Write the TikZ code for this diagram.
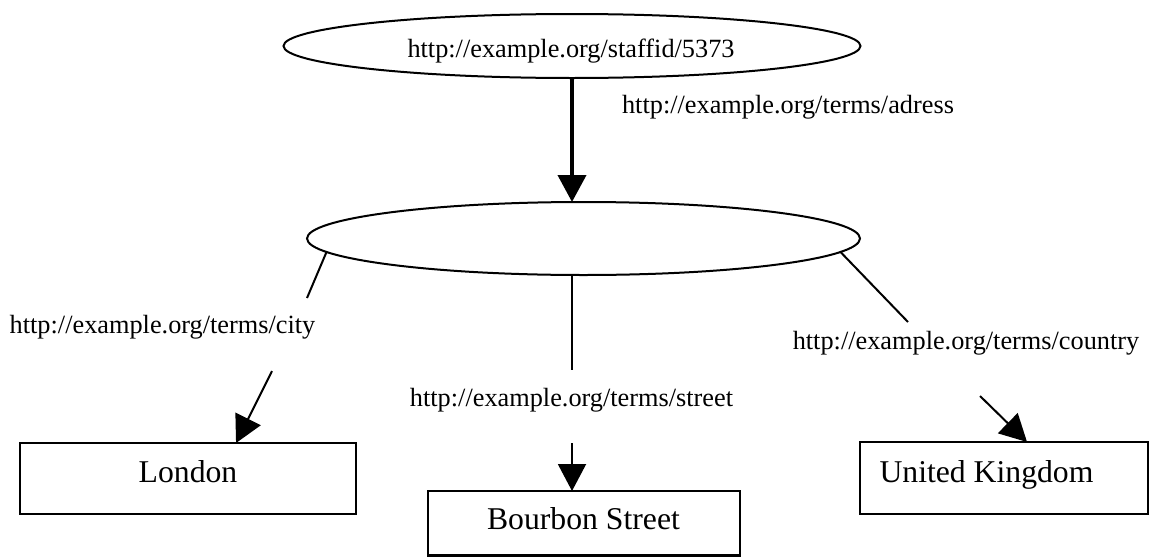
\documentclass[tikz,border=0pt]{standalone}
\usepackage{fontspec}
\setmainfont{Liberation Serif}
\usetikzlibrary{shapes.geometric,arrows.meta,calc}
\begin{document}
\begin{tikzpicture}[x=1pt,y=-1pt,
  resource/.style={draw, ellipse, line width=2pt, inner sep=0pt, outer sep=0pt},
  literal/.style={draw, rectangle, line width=2.4pt, inner sep=0pt, outer sep=0pt},
  lbl/.style={font=\fontsize{26.3}{30}\selectfont, anchor=base, inner sep=0pt},
  boxtxt/.style={font=\fontsize{31.7}{36}\selectfont, anchor=base, inner sep=0pt},
  conn/.style={line width=2pt},
  tip/.style={-{Triangle[length=27pt,width=28pt]}}
]
\useasboundingbox (0,0) rectangle (1151,557);

% subject and blank node
\node[resource, minimum width=577pt, minimum height=64pt] (staff) at (572,46) {};
\node[lbl] (staffText) at (571,57) {http://example.org/staffid/5373};
\node[resource, minimum width=553pt, minimum height=73pt] (addr) at (583.5,238.5) {};

% literal values
\node[literal, minimum width=336pt, minimum height=71pt] (london) at (188,478.5) {};
\node[boxtxt] (londonText) at (188,482) {London};
\node[literal, minimum width=312pt, minimum height=64.5pt] (bourbon) at (584,523.25) {};
\node[boxtxt] (bourbonText) at (583.5,529) {Bourbon Street};
\node[literal, minimum width=288pt, minimum height=72pt] (uk) at (1004,478) {};
\node[boxtxt] (ukText) at (986.5,482) {United Kingdom};

% predicate labels
\node[lbl] (adressLbl) at (788,113) {http://example.org/terms/adress};
\node[lbl] (cityLbl) at (162.5,333) {http://example.org/terms/city};
\node[lbl] (streetLbl) at (571.5,406) {http://example.org/terms/street};
\node[lbl] (countryLbl) at (966,349) {http://example.org/terms/country};

% break points where the edges pass their labels
\coordinate (cityA) at (307,298);
\coordinate (cityB) at (272,371);
\coordinate (streetA) at (572,370);
\coordinate (streetB) at (572,443);
\coordinate (countryA) at (908,322);
\coordinate (countryB) at (980,396);

% edges
\draw[line width=4pt, tip] (staff.south) -- (staff.south |- addr.north);
\draw[conn] (addr.183.2) -- (cityA);
\draw[conn, tip] (cityB) -- ($(london.north west)!0.643!(london.north east)$);
\draw[conn] (streetA |- addr.south) -- (streetA);
\draw[conn, tip] (streetB) -- (streetB |- bourbon.north);
\draw[conn] (addr.-3.05) -- (countryA);
\draw[conn, tip] (countryB) -- ($(uk.north west)!0.58!(uk.north east)$);
\end{tikzpicture}
\end{document}
